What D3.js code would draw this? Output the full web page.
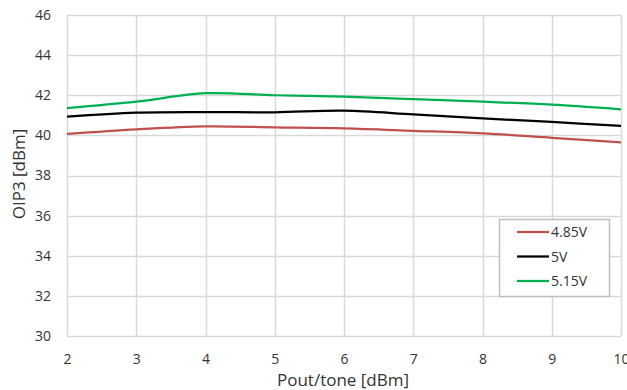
<!DOCTYPE html>
<html>
<head>
<meta charset="utf-8">
<script src="https://cdn.jsdelivr.net/npm/d3@7"></script>
<style>
  body { margin: 0; background: #fff; }
  text { font-family: "Open Sans", Lato, sans-serif; fill: #333; }
</style>
</head>
<body>
<div id="chart"></div>
<script>
// x values (Pout/tone)
const pout = [2, 3, 4, 5, 6, 7, 8, 9, 10]

// OIP3 per supply voltage
const oip3_485 = [40.07, 40.30, 40.45, 40.40, 40.35, 40.23, 40.10, 39.88, 39.65]
const oip3_5 = [40.93, 41.13, 41.16, 41.15, 41.23, 41.05, 40.85, 40.67, 40.47]
const oip3_515 = [41.36, 41.68, 42.10, 42.00, 41.93, 41.81, 41.68, 41.53, 41.30]

const seriesNames = ['4.85V', '5V', '5.15V']
const seriesColors = ['#C0504D', '#000000', '#00B050']

const yTicks = [30, 32, 34, 36, 38, 40, 42, 44, 46]
const xTicks = [2, 3, 4, 5, 6, 7, 8, 9, 10]

let width = 627
let height = 390

let plotLeft = 67, plotRight = 621, plotTop = 15, plotBottom = 336

const svg = d3.select('#chart')
	.append('svg')
	.attr('width', width)
	.attr('height', height)

let xScale = d3.scaleLinear()
	.domain([2, 10])
	.range([plotLeft, plotRight])

let yScale = d3.scaleLinear()
	.domain([30, 46])
	.range([plotBottom, plotTop])

// gridlines
svg.append('g')
	.selectAll('line')
	.data(yTicks)
	.join('line')
	.attr('x1', plotLeft)
	.attr('x2', plotRight)
	.attr('y1', d => Math.round(yScale(d)) + 0.5)
	.attr('y2', d => Math.round(yScale(d)) + 0.5)
	.attr('stroke', '#d9d9d9')
	.attr('stroke-width', 1.5)

svg.append('g')
	.selectAll('line')
	.data(xTicks)
	.join('line')
	.attr('x1', d => Math.round(xScale(d)) + 0.5)
	.attr('x2', d => Math.round(xScale(d)) + 0.5)
	.attr('y1', plotTop)
	.attr('y2', plotBottom)
	.attr('stroke', '#d9d9d9')
	.attr('stroke-width', 1.5)

// axes (labels only)
let xAxis = g => g
	.attr('transform', `translate(0,${plotBottom})`)
	.call(d3.axisBottom(xScale).tickValues(xTicks).tickSize(0).tickPadding(18))
	.call(g => g.select('.domain').remove())

let yAxis = g => g
	.attr('transform', `translate(${plotLeft},0)`)
	.call(d3.axisLeft(yScale).tickValues(yTicks).tickSize(0).tickPadding(16))
	.call(g => g.select('.domain').remove())

svg.append('g').call(xAxis)
svg.append('g').call(yAxis)

svg.selectAll('.tick text')
	.attr('font-size', 14)
	.attr('font-family', '"Open Sans", Lato, sans-serif')
	.attr('fill', '#333')

// lines
let line = d3.line()
	.curve(d3.curveCatmullRom.alpha(0.5))
	.x((d, i) => xScale(pout[i]))
	.y(d => yScale(d))

const allSeries = [oip3_485, oip3_5, oip3_515]

allSeries.forEach(function(vals, i){
	svg.append('path')
		.datum(vals)
		.attr('d', line)
		.attr('fill', 'none')
		.attr('stroke', seriesColors[i])
		.attr('stroke-width', 2.25)
})

// axis titles
svg.append('text')
	.attr('x', 343)
	.attr('y', 386)
	.attr('text-anchor', 'middle')
	.attr('font-size', 17)
	.text('Pout/tone [dBm]')

svg.append('text')
	.attr('transform', 'translate(25,174) rotate(-90)')
	.attr('text-anchor', 'middle')
	.attr('font-size', 17)
	.text('OIP3 [dBm]')

// legend
const legend = svg.append('g')

legend.append('rect')
	.attr('x', 499.5)
	.attr('y', 219.5)
	.attr('width', 110)
	.attr('height', 77)
	.attr('fill', '#fff')
	.attr('stroke', '#bfbfbf')
	.attr('stroke-width', 1.5)

seriesNames.forEach(function(name, i){
	let y = 232 + i * 24.5
	legend.append('line')
		.attr('x1', 517)
		.attr('x2', 549)
		.attr('y1', y)
		.attr('y2', y)
		.attr('stroke', seriesColors[i])
		.attr('stroke-width', 2.25)
	legend.append('text')
		.attr('x', 551)
		.attr('y', y + 5)
		.attr('font-size', 14)
		.text(name)
})
</script>
</body>
</html>
